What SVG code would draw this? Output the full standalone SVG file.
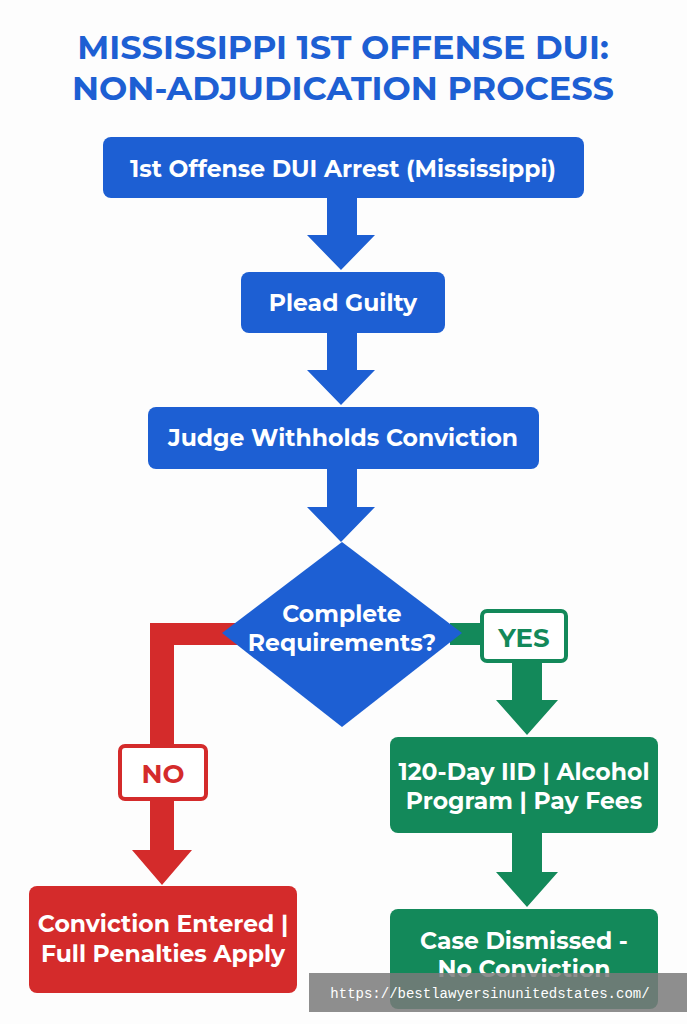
<svg xmlns="http://www.w3.org/2000/svg" width="687" height="1024" viewBox="0 0 687 1024">
<style>
.t{font-family:"Montserrat","Open Sans","Liberation Sans",sans-serif;font-weight:bold;text-anchor:middle}
.w{fill:#fff;font-size:23.5px}
.b{fill:#1d5fd3}.r{fill:#d42b2b}.g{fill:#13895a}
</style>
<rect width="687" height="1024" fill="#fdfdfd"/>
<text class="t" x="343" y="59" fill="#1d5fd3" font-size="33.5">MISSISSIPPI 1ST OFFENSE DUI:</text>
<text class="t" x="343" y="100" fill="#1d5fd3" font-size="33.5">NON-ADJUDICATION PROCESS</text>
<g id="connectors">
<path class="b" d="M327 198h30v37h18l-34 35-34-35h20z"/>
<path class="b" d="M327 333h30v37h18l-34 35-34-35h20z"/>
<path class="b" d="M327 469h30v38h18l-34 35-34-35h20z"/>
<path class="r" d="M240 623v22h-66v205h18l-30 35-30-35h18v-227z"/>
<path class="g" d="M450 623h34v22h-34z"/>
<path class="g" d="M512 660h30v40h16l-31 35-31-35h16z"/>
<path class="g" d="M512 832h30v40h16l-31 35-31-35h16z"/>
</g>
<g id="n1"><rect class="b" x="103" y="137" width="481" height="61" rx="8"/><text class="t w" x="343" y="177">1st Offense DUI Arrest (Mississippi)</text></g>
<g id="n2"><rect class="b" x="241" y="272" width="204" height="61" rx="8"/><text class="t w" x="343" y="311">Plead Guilty</text></g>
<g id="n3"><rect class="b" x="148" y="407" width="391" height="62" rx="8"/><text class="t w" x="343" y="446">Judge Withholds Conviction</text></g>
<g id="n4"><path class="b" d="M342 542L462 633L342 727L222 633Z"/><text class="t w" x="342" y="622">Complete</text><text class="t w" x="342" y="651">Requirements?</text></g>
<g id="yes"><rect x="482" y="611" width="84" height="50" rx="5" fill="#fff" stroke="#13895a" stroke-width="4"/><text class="t" x="524" y="647" fill="#13895a" font-size="26">YES</text></g>
<g id="no"><rect x="120" y="746" width="86" height="53" rx="5" fill="#fff" stroke="#d42b2b" stroke-width="4"/><text class="t" x="163" y="783" fill="#d42b2b" font-size="26">NO</text></g>
<g id="n5"><rect class="g" x="390" y="737" width="268" height="96" rx="8"/><text class="t w" x="524" y="780">120-Day IID | Alcohol</text><text class="t w" x="524" y="809">Program | Pay Fees</text></g>
<g id="n6"><rect class="r" x="29" y="886" width="268" height="107" rx="8"/><text class="t w" x="163" y="932">Conviction Entered |</text><text class="t w" x="163" y="962">Full Penalties Apply</text></g>
<g id="n7"><rect class="g" x="390" y="909" width="268" height="100" rx="8"/><text class="t w" x="524" y="949">Case Dismissed -</text><text class="t w" x="524" y="977">No Conviction</text></g>
<rect x="309" y="973" width="378" height="39" fill="#7a7a7a" opacity="0.85"/>
<text x="490" y="998" font-family="Liberation Mono,monospace" font-size="14" fill="#fff" text-anchor="middle">https://bestlawyersinunitedstates.com/</text>
</svg>
